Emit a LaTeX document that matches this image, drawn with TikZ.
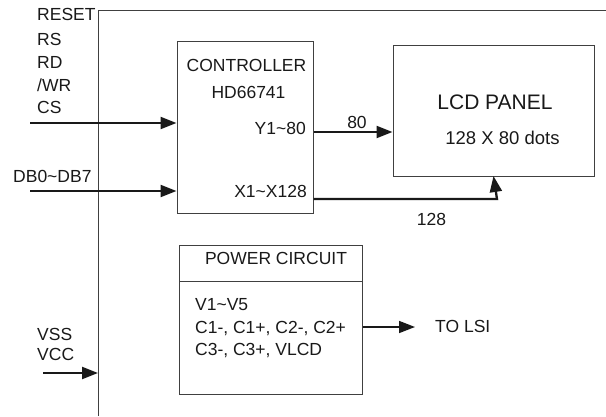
\documentclass[tikz,border=0pt]{standalone}
\usepackage{fontspec}
\setmainfont{Liberation Sans}
\usetikzlibrary{arrows.meta}

\begin{document}
\begin{tikzpicture}[x=1pt, y=-1pt]
    \tikzset{
        block/.style={
            draw=black!75, line width=1pt,
            inner sep=0pt
        },
        lbl/.style={
            font=\fontsize{17.5}{21}\selectfont, text=black!90,
            inner sep=0pt
        },
        bus/.style={
            draw=black!90, line width=2.3pt,
            -{Triangle[length=16pt, width=12pt]}
        },
    }
    \useasboundingbox (0,0) rectangle (606,416);

    % ==== Outer module frame ====
    \draw[black!75, line width=1pt] (98,416) -- (98,10) -- (606,10);

    % ==== Blocks ====
    \node[block, minimum width=136pt, minimum height=172pt] (ctrl) at (245,127) {};
    \node[block, minimum width=201pt, minimum height=131pt] (lcd) at (493.5,110.5) {};
    \node[block, minimum width=183pt, minimum height=149pt] (pwr) at (270.5,319.5) {};
    \draw[black!75, line width=1pt] (179,281) -- (362,281);

    % ==== Block texts ====
    \node[lbl, anchor=base] (ctrlname) at (246.5,71) {CONTROLLER};
    \node[lbl, anchor=base] (ctrlchip) at (248.5,98) {HD66741};
    \node[lbl, anchor=base east] (yout) at (306,134) {Y1\char`\~80};
    \node[lbl, anchor=base east] (xout) at (307,197) {X1\char`\~X128};
    \node[lbl, anchor=base, font=\fontsize{21}{25}\selectfont] (lcdname) at (495,109) {LCD PANEL};
    \node[lbl, anchor=base, font=\fontsize{18.5}{22}\selectfont] (lcddots) at (502.5,144) {128 X 80 dots};
    \node[lbl, anchor=base] (pwrname) at (276,264) {POWER CIRCUIT};
    \node[lbl, anchor=base west] (pwrv) at (195,310) {V1\char`\~V5};
    \node[lbl, anchor=base west] (pwrc) at (195,333) {C1-, C1+, C2-, C2+};
    \node[lbl, anchor=base west] (pwrl) at (195,355) {C3-, C3+, VLCD};

    % ==== Input signals ====
    \node[lbl, anchor=base west] (reset) at (37,20) {RESET};
    \node[lbl, anchor=base west] (rs) at (37,45) {RS};
    \node[lbl, anchor=base west] (rd) at (37,68) {RD};
    \node[lbl, anchor=base west] (wr) at (37,91) {/WR};
    \node[lbl, anchor=base west] (cs) at (37,113) {CS};
    \node[lbl, anchor=base west] (db) at (13,182) {DB0\char`\~DB7};
    \node[lbl, anchor=base west] (vss) at (37,340) {VSS};
    \node[lbl, anchor=base west] (vcc) at (37,360) {VCC};
    \node[lbl, anchor=base west] (tolsi) at (435,332) {TO LSI};

    % ==== Bus labels ====
    \node[lbl, anchor=base] (n80) at (357,128) {80};
    \node[lbl, anchor=base] (n128) at (431.5,225) {128};

    % ==== Connectors ====
    \coordinate (csin) at (30,123);
    \coordinate (dbin) at (30,191);
    \coordinate (vccin) at (43,373);
    \coordinate (frame) at (98,373);
    \coordinate (lsi) at (415,327);
    \draw[bus] (csin) -- (csin -| ctrl.west);
    \draw[bus] (dbin) -- (dbin -| ctrl.west);
    \draw[bus] (vccin) -- (frame);
    \draw[bus] (ctrl.east |- 0,132) -- (lcd.west |- 0,132);
    \draw[bus] (ctrl.east |- 0,199) -- (497,199) -- (497,176 -| lcd.south);
    \draw[bus, line width=1.6pt] (pwr.east |- lsi) -- (lsi);
\end{tikzpicture}
\end{document}
